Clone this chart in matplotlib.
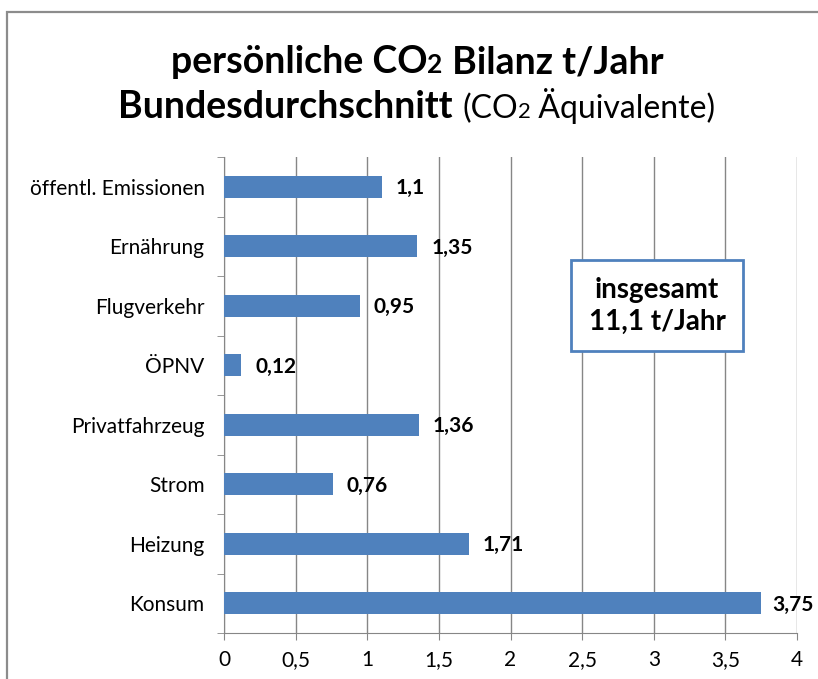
import matplotlib
matplotlib.use("Agg")
import matplotlib.pyplot as plt
from matplotlib.patches import Rectangle

# data (bottom to top as drawn)
categories = ["Konsum", "Heizung", "Strom", "Privatfahrzeug", "ÖPNV",
              "Flugverkehr", "Ernährung", "öffentl. Emissionen"]
values = [3.75, 1.71, 0.76, 1.36, 0.12, 0.95, 1.35, 1.1]
x_ticks = [0, 0.5, 1, 1.5, 2, 2.5, 3, 3.5, 4]
total_text = "insgesamt\n11,1 t/Jahr"

plt.rcParams['font.family'] = ['Lato', 'DejaVu Sans']
bar_color = "#4f81bd"
grid_color = "#868686"

W, H = 818, 679
fig = plt.figure(figsize=(W / 100, H / 100), dpi=100)

# outer chart frame (right/bottom edges lie outside the picture)
fig.patches.append(Rectangle((7 / W, -0.1), 1.2, 1 - 12 / H + 0.1,
                             transform=fig.transFigure, fill=False,
                             edgecolor="#8c8c8c", lw=1.6))

ax = fig.add_axes([224 / W, 1 - 633 / H, 573 / W, 476 / H])
ypos = list(range(len(categories)))
ax.barh(ypos, values, height=0.37, color=bar_color, zorder=3)

ax.set_xlim(0, 4)
ax.set_ylim(-0.5, len(categories) - 0.5)
ax.set_xticks(x_ticks)
ax.set_xticklabels([f"{t:g}".replace(".", ",") for t in x_ticks], fontsize=15)
ax.set_yticks(ypos)
ax.set_yticklabels(categories, fontsize=15)
ax.set_yticks([i - 0.5 for i in range(len(categories) + 1)], minor=True)
ax.tick_params(axis='y', which='major', length=0, pad=14)
ax.tick_params(axis='y', which='minor', length=5, color=grid_color)
ax.tick_params(axis='x', length=5, color=grid_color, pad=7)

ax.grid(axis='x', color=grid_color, lw=1, zorder=0)
for s in ['top', 'right']:
    ax.spines[s].set_visible(False)
for s in ['left', 'bottom']:
    ax.spines[s].set_color(grid_color)

for y, v in zip(ypos, values):
    ax.annotate(f"{v:g}".replace(".", ","), (v, y), xytext=(8 if v > 3 else 10, -1),
                textcoords='offset points', va='center', ha='left',
                fontsize=15, fontweight='bold')

# title built from pieces (smaller "2" in CO2, regular parenthesis part)
renderer = fig.canvas.get_renderer()
title_cx = 417


def line(pieces, y_px):
    texts = []
    for s, size, weight in pieces:
        t = fig.text(0, 1 - y_px / H, s, fontsize=size, fontweight=weight,
                     ha='left', va='baseline')
        texts.append(t)
    widths = [t.get_window_extent(renderer).width for t in texts]
    total = sum(widths)
    x = title_cx - total / 2
    for t, w in zip(texts, widths):
        t.set_x(x / W)
        x += w


line([("persönliche CO", 27, 'bold'), ("2", 19, 'bold'),
      (" Bilanz t/Jahr", 27, 'bold')], 73)
line([("Bundesdurchschnitt ", 27, 'bold'), ("(CO", 23, 'normal'),
      ("2", 16, 'normal'), (" Äquivalente)", 23, 'normal')], 118)

# total box
fig.patches.append(Rectangle((571 / W, 1 - 351 / H), 172 / W, 91 / H,
                             transform=fig.transFigure, facecolor='white',
                             edgecolor=bar_color, lw=2, zorder=5))
fig.text(657 / W, 1 - 306 / H, total_text, ha='center', va='center',
         fontsize=20, fontweight='bold', linespacing=1.25, zorder=6)

fig.savefig("out.png", dpi=100)
